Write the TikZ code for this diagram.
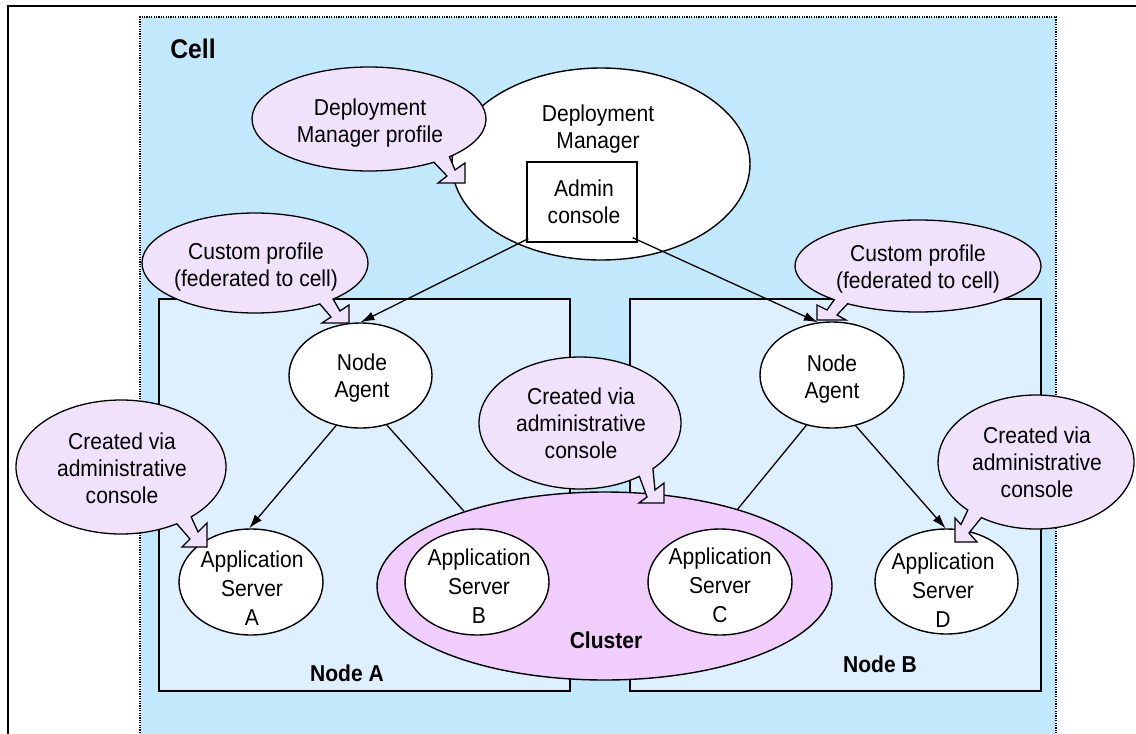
\documentclass[tikz,border=0pt]{standalone}
\usepackage{fontspec}
\setmainfont{Liberation Sans}[FakeStretch=0.915]
\usetikzlibrary{shapes.geometric,arrows.meta,calc}
\definecolor{cellfill}{RGB}{194,232,251}
\definecolor{boxfill}{RGB}{222,240,253}
\definecolor{callfill}{RGB}{240,226,251}
\definecolor{clufill}{RGB}{240,205,250}
\newcommand\mycallout[6]{\draw[callout] (#1) ++(#4:#2pt and #3pt) arc[start angle=#4,end angle=#5,x radius=#2pt,y radius=#3pt] -- #6 -- cycle;}
\begin{document}
\begin{tikzpicture}[x=1pt,y=-1pt,
 callout/.style={fill=callfill,draw=black,line width=1.3pt,line join=miter},
 oval/.style={ellipse,draw=black,fill=white,line width=1.4pt,inner sep=0pt},
 txt/.style={font=\fontsize{23}{27}\selectfont,align=center,inner sep=0pt,anchor=base},
 txtb/.style={font=\fontsize{23}{29}\selectfont,align=center,inner sep=0pt,anchor=base},
 lbl/.style={font=\fontsize{23}{27}\selectfont\bfseries,inner sep=0pt,anchor=base},
 conn/.style={line width=1.3pt},
 arr/.style={conn,-{Latex[length=14pt,width=9pt]}},
 nodebox/.style={draw=black,fill=boxfill,line width=1.5pt,inner sep=0pt}]
\useasboundingbox (0,0) rectangle (1136,734);
\clip (0,0) rectangle (1136,734);
% frame
\draw[line width=1.5pt] (8,745) -- (8,6) -- (1145,6);
% cell
\fill[cellfill] (140,17) rectangle (1056,745);
\draw[line width=1.2pt,dash pattern=on 1.2pt off 1.2pt] (140,745) -- (140,17) -- (1056,17) -- (1056,745);
% node boxes
\node[nodebox,minimum width=411pt,minimum height=392pt] (nodeA) at (364.5,495) {};
\node[nodebox,minimum width=411pt,minimum height=392pt] (nodeB) at (835.5,495) {};
% deployment manager
\node[oval,minimum width=298pt,minimum height=192pt] (dm) at (601,164) {};
\node[draw=black,fill=white,line width=1.4pt,minimum width=110pt,minimum height=80pt,inner sep=0pt] (admin) at (582,202) {};
% cluster
\node[oval,fill=clufill,minimum width=455pt,minimum height=188pt] (cluster) at (604.5,586) {};
% agents and servers
\node[oval,minimum width=143pt,minimum height=105pt] (agentA) at (360.5,375.5) {};
\node[oval,minimum width=144pt,minimum height=106pt] (agentB) at (832,375) {};
\node[oval,minimum width=144pt,minimum height=106pt] (asA) at (251,582) {};
\node[oval,minimum width=144pt,minimum height=106pt] (asB) at (477,582) {};
\node[oval,minimum width=144pt,minimum height=106pt] (asC) at (720,582) {};
\node[oval,minimum width=143pt,minimum height=105pt] (asD) at (946.5,581.5) {};
% connectors
\draw[arr] ($(admin.south west)+(2,-4)$) -- (agentA.north);
\draw[arr] ($(admin.south east)+(-5,-5)$) -- (agentB.105);
\draw[arr] (agentA.244.6) -- (asA.92);
\draw[conn] (agentA.298.2) -- (cluster.152.4);
\draw[conn] (agentB.243.4) -- (cluster.30.5);
\draw[arr] (agentB.295.6) -- (asD.91.6);
% callouts
\mycallout{369,119}{117}{52}{-46.55}{303.7}{(447,176) -- (438,183) -- (465,183) -- (465,163) -- (455,170)}
\mycallout{255,263}{113}{50}{-46.27}{305.04}{(331,317) -- (322,323) -- (349,323) -- (349,305) -- (340,311)}
\mycallout{918,266}{123}{46}{235.1}{587.1}{(827,310) -- (817,305) -- (817,320) -- (846,320) -- (837,315)}
\mycallout{580,423}{101}{66}{-43.8}{306.0}{(647,497) -- (639,503) -- (664,503) -- (664,483) -- (655,490)}
\mycallout{121,467}{105}{67}{-48.05}{302.1}{(190,539) -- (182,547) -- (207,547) -- (207,523) -- (198,532)}
\mycallout{1036,462}{98}{67}{236.1}{585.9}{(961,524.5) -- (955,518) -- (955,542) -- (977,542) -- (969,533)}
% texts (base anchor = baseline of last line)
\node[lbl,font=\fontsize{27}{30}\selectfont\bfseries] (tcell) at (193,58) {Cell};
\node[txt] (tdmp) at (370,142) {Deployment\\Manager profile};
\node[txt] (tdm) at (598,148) {Deployment\\Manager};
\node[txt] (tadm) at (584,223) {Admin\\console};
\node[txt] (tcpl) at (256,286) {Custom profile\\(federated to cell)};
\node[txt] (tcpr) at (918,288) {Custom profile\\(federated to cell)};
\node[txt] (tnaa) at (362,397) {Node\\Agent};
\node[txt] (tnab) at (832,398) {Node\\Agent};
\node[txt] (tcvm) at (581,458) {Created via\\administrative\\console};
\node[txt] (tcvl) at (122,503) {Created via\\administrative\\console};
\node[txt] (tcvr) at (1037,497) {Created via\\administrative\\console};
\node[txtb] (tasa) at (252,625) {Application\\Server\\A};
\node[txtb] (tasb) at (479,623) {Application\\Server\\B};
\node[txtb] (tasc) at (720,622) {Application\\Server\\C};
\node[txtb] (tasd) at (943,627) {Application\\Server\\D};
\node[lbl] (tnodea) at (347,681) {Node A};
\node[lbl] (tnodeb) at (880,672) {Node B};
\node[lbl] (tclu) at (606,648) {Cluster};
\end{tikzpicture}
\end{document}
